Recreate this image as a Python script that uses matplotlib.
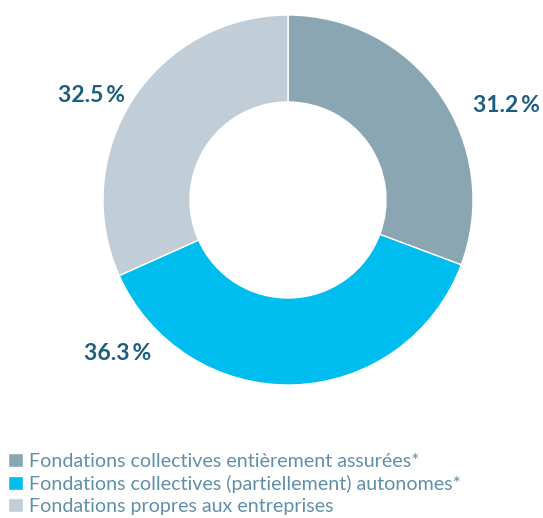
import matplotlib
matplotlib.use("Agg")
from matplotlib import pyplot as plt

labels = ["Fondations collectives entièrement assurées*",
          "Fondations collectives (partiellement) autonomes*",
          "Fondations propres aux entreprises"]
values = [30.7, 37.6, 31.7]
pct_text = ["31.2\u2009%", "36.3\u2009%", "32.5\u2009%"]
colors = ["#8ba6b3", "#00bdf0", "#c1ced8"]

W, H = 543, 518
fig = plt.figure(figsize=(W / 100, H / 100), dpi=100)
ax = fig.add_axes([0, 0, 1, 1])

cx, cy = 288, H - 200
wedges, _ = ax.pie(values, colors=colors, startangle=90, counterclock=False,
                   center=(cx, cy), radius=185, frame=True,
                   wedgeprops=dict(width=87, edgecolor="white", linewidth=1))
ax.set_xlim(0, W)
ax.set_ylim(0, H)
ax.set_aspect("equal")
ax.axis("off")

lab_pos = [(506, 105), (118, 353), (91, 96)]
for (x, y), t in zip(lab_pos, pct_text):
    ax.text(x, H - y, t, ha="center", va="center", fontsize=16.5,
            fontweight="bold", color="#1d5e7f", family="Lato")

leg = ax.legend(wedges, labels, loc="upper left", bbox_to_anchor=(8 / W, 1 - 453 / H),
                frameon=False, handlelength=0.75, handleheight=0.75, handletextpad=0.3,
                labelspacing=0.25, borderpad=0, borderaxespad=0,
                prop=dict(family="Lato", size=14.1), labelcolor="#5f90a8")

fig.savefig("out.png", dpi=100)
